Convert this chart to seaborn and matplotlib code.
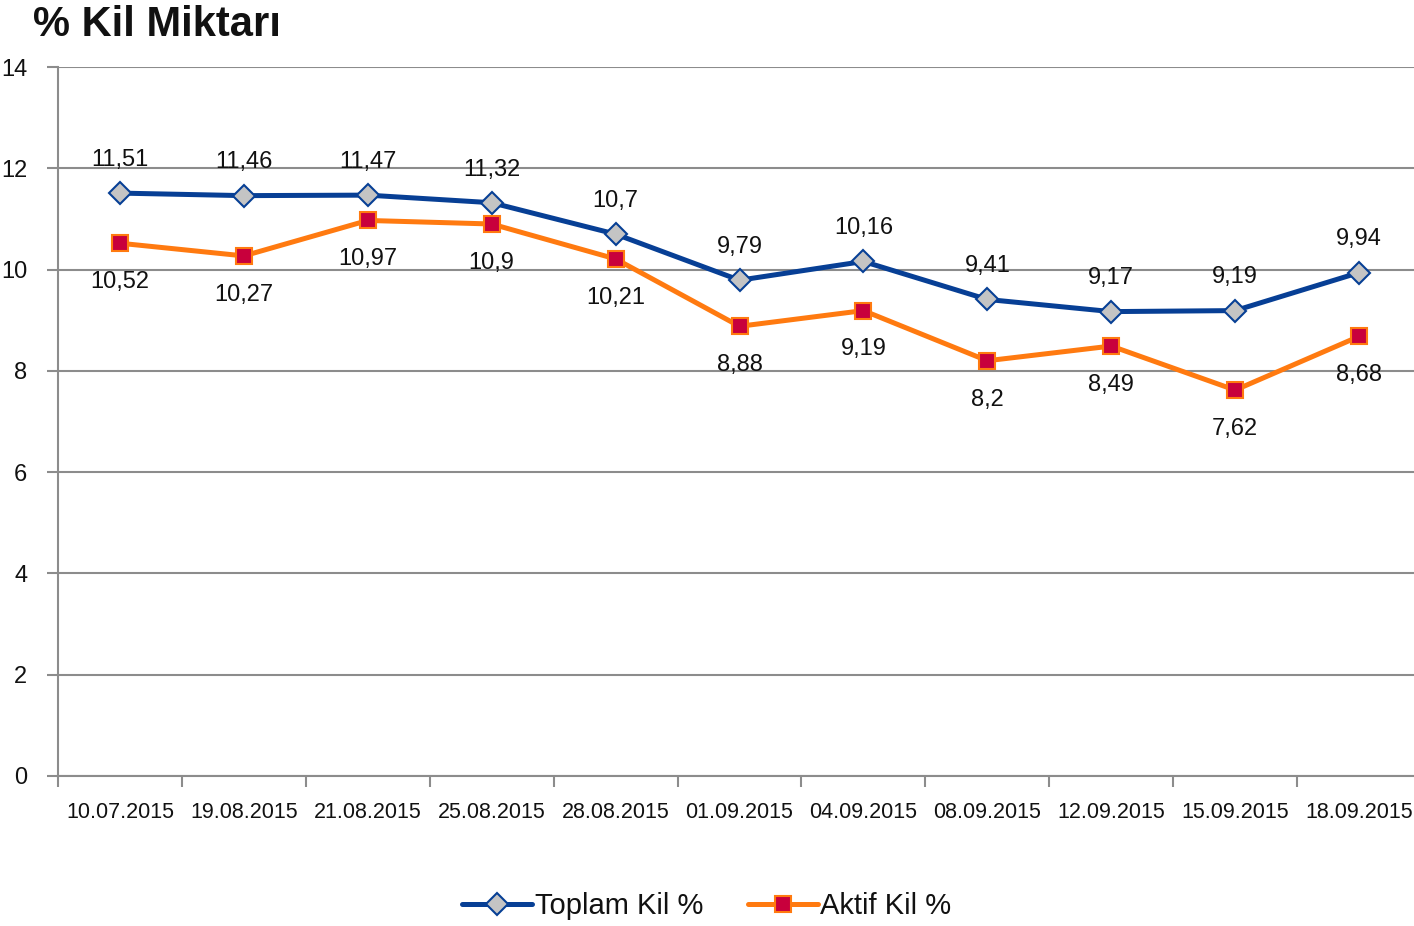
import matplotlib
matplotlib.use("Agg")
import matplotlib.pyplot as plt
from matplotlib import font_manager
import seaborn as sns
import pandas as pd
from matplotlib.ticker import FixedLocator

dates = ["10.07.2015", "19.08.2015", "21.08.2015", "25.08.2015", "28.08.2015",
         "01.09.2015", "04.09.2015", "08.09.2015", "12.09.2015", "15.09.2015", "18.09.2015"]
toplam = [11.51, 11.46, 11.47, 11.32, 10.7, 9.79, 10.16, 9.41, 9.17, 9.19, 9.94]
aktif = [10.52, 10.27, 10.97, 10.9, 10.21, 8.88, 9.19, 8.2, 8.49, 7.62, 8.68]
yticks = [0, 2, 4, 6, 8, 10, 12, 14]

sns.set_theme(style="white")
names = {f.name for f in font_manager.fontManager.ttflist}
fam = [f for f in ["Liberation Sans Narrow", "Liberation Sans", "DejaVu Sans"] if f in names]
plt.rcParams['font.family'] = fam

df = pd.DataFrame({"x": list(range(len(dates))) * 2,
                   "y": toplam + aktif,
                   "s": ["Toplam Kil %"] * len(dates) + ["Aktif Kil %"] * len(dates)})

fig = plt.figure(figsize=(14.14, 9.26), dpi=100)
ax = fig.add_axes([58/1414, 1-776/926, (1421-58)/1414, (776-67)/926])

blue = "#073f95"
orange = "#ff7a10"
txt = "#111111"

sns.lineplot(data=df[df.s == "Toplam Kil %"], x="x", y="y", ax=ax, color=blue, lw=3.6,
             marker="D", markersize=11, markerfacecolor="#c4c4c4", markeredgecolor=blue,
             markeredgewidth=1.5, label="Toplam Kil %", zorder=3)
sns.lineplot(data=df[df.s == "Aktif Kil %"], x="x", y="y", ax=ax, color=orange, lw=3.6,
             marker="s", markersize=12, markerfacecolor="#c8003c", markeredgecolor=orange,
             markeredgewidth=1.5, label="Aktif Kil %", zorder=3)

def fmt(v):
    return ("%g" % v).replace(".", ",")

for i, v in enumerate(toplam):
    ax.annotate(fmt(v), (i, v), xytext=(0, 16), textcoords="offset points",
                ha="center", va="bottom", fontsize=17, color=txt)
for i, v in enumerate(aktif):
    ax.annotate(fmt(v), (i, v), xytext=(0, -20), textcoords="offset points",
                ha="center", va="top", fontsize=17, color=txt)

ax.set_xlim(-0.5, len(dates) - 0.5)
ax.set_ylim(0, 14)
ax.set_yticks(yticks)
ax.set_yticklabels([str(t) for t in yticks], fontsize=17, color=txt)
ax.set_xticks(range(len(dates)))
ax.set_xticklabels(dates, fontsize=15.5, color=txt)
ax.xaxis.set_minor_locator(FixedLocator([i + 0.5 for i in range(-1, len(dates))]))
ax.tick_params(axis="x", which="major", length=0, pad=19)
ax.tick_params(axis="x", which="minor", length=8, width=1.5, color="#8c8c8c", direction="out", bottom=True)
ax.tick_params(axis="y", which="major", length=8, width=1.5, color="#8c8c8c", direction="out", left=True, pad=14)
ax.set_xlabel("")
ax.set_ylabel("")
ax.grid(axis="y", color="#8c8c8c", lw=1.5)
ax.set_axisbelow(True)
for s in ["top", "right"]:
    ax.spines[s].set_visible(False)
for s in ["left", "bottom"]:
    ax.spines[s].set_color("#8c8c8c")
    ax.spines[s].set_linewidth(1.5)

ax.legend(loc="center", bbox_to_anchor=(0.5, (926-906)/926), bbox_transform=fig.transFigure,
          ncol=2, frameon=False, fontsize=21, handlelength=2.4, handletextpad=0.1,
          columnspacing=1.5, labelcolor=txt)

fig.text(33/1414, 1-25/926, "% Kil Miktarı", fontsize=30, fontweight="bold",
         ha="left", va="center", color=txt)

fig.savefig("out.png", dpi=100)
